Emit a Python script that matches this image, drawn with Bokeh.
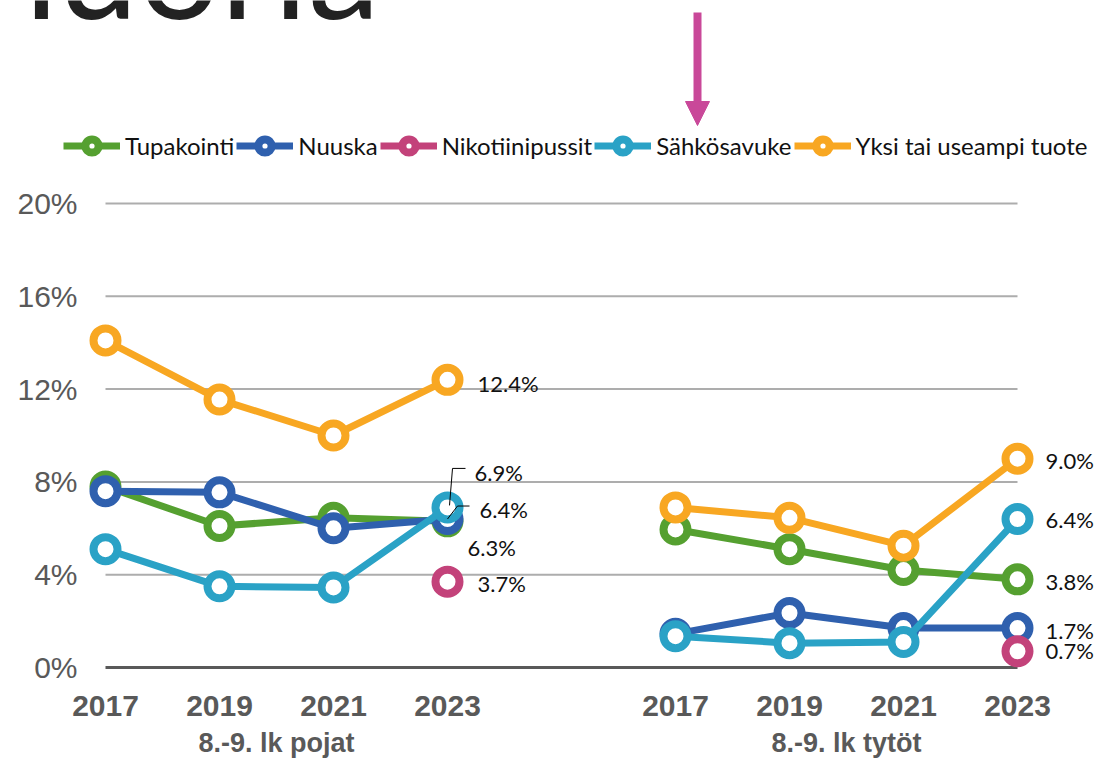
import math
from bokeh.plotting import figure
from bokeh.models import (Range1d, FixedTicker, Legend, LegendItem, Label, Arrow,
                          NormalHead, LinearAxis, ColumnDataSource)
from bokeh.core.properties import value
from bokeh.embed import file_html
from bokeh.resources import INLINE

nan = float("nan")

# ---------------- data ----------------
years = ["2017", "2019", "2021", "2023"]
groups = ["8.-9. lk pojat", "8.-9. lk tytöt"]
series = ["Tupakointi", "Nuuska", "Nikotiinipussit", "Sähkösavuke", "Yksi tai useampi tuote"]

tupakointi_pojat = [7.8, 6.1, 6.45, 6.3]
tupakointi_tytot = [5.95, 5.1, 4.2, 3.8]
nuuska_pojat = [7.6, 7.55, 6.0, 6.4]
nuuska_tytot = [1.45, 2.35, 1.7, 1.7]
nikotiinipussit_pojat = [nan, nan, nan, 3.7]
nikotiinipussit_tytot = [nan, nan, nan, 0.7]
sahkosavuke_pojat = [5.1, 3.5, 3.45, 6.9]
sahkosavuke_tytot = [1.35, 1.05, 1.1, 6.4]
yksi_pojat = [14.1, 11.55, 10.0, 12.4]
yksi_tytot = [6.9, 6.45, 5.25, 9.0]

y_ticks = [0, 4, 8, 12, 16, 20]
title_text = "nuoria"

values_by_group = [
    [tupakointi_pojat, nuuska_pojat, nikotiinipussit_pojat, sahkosavuke_pojat, yksi_pojat],
    [tupakointi_tytot, nuuska_tytot, nikotiinipussit_tytot, sahkosavuke_tytot, yksi_tytot],
]

# ---------------- styles ----------------
colors = ["#55A030", "#2F60AE", "#C3427A", "#2AA2C6", "#F8A722"]
FONT = "Lato"
AXIS_FONT = "Liberation Sans"
GRAY = "#595959"
ARROW_COLOR = "#C94899"

# label offsets in pixels (dx, dy) per group / series index
label_offsets = [
    [(20, 26), (32, -10), (30, 2), (27, -35), (30, 4)],
    [(28, 2), (28, 2), (28, -1), (28, 0), (28, 2)],
]
# leader lines (pixel offsets from the point) for crowded labels
leaders = {
    (0, 3): [(2, -2), (5, -39), (18, -39)],
    (0, 1): [(0, 0), (10, -13), (22, -13)],
}

# ---------------- geometry ----------------
W = 1096
FH = 684
ZERO_PX = 667
n = len(years)
gx = [[g * (n + 1) + i for i in range(n)] for g in range(len(groups))]
all_x = [x for g in gx for x in g]
x_lo, x_hi = all_x[0], all_x[-1]

PX_PER_PCT = 23.2
PX_PER_CAT = 114.0
x_start = x_lo - 105 / PX_PER_CAT
x_end = x_start + W / PX_PER_CAT
y_start = -(FH - ZERO_PX) / PX_PER_PCT
y_end = y_start + FH / PX_PER_PCT

def px_x(px):  # canvas pixel -> data x
    return x_start + px / PX_PER_CAT

def px_y(px):  # canvas pixel from top -> data y
    return y_end - px / PX_PER_PCT

p = figure(frame_width=W, frame_height=FH,
           x_range=Range1d(x_start, x_end), y_range=Range1d(y_start, y_end),
           y_axis_location=None,
           output_backend="svg", toolbar_location=None,
           min_border_left=0, min_border_right=0, min_border_top=0, min_border_bottom=762 - FH,
           outline_line_color=None, background_fill_color="white", border_fill_color="white")
p.xgrid.grid_line_color = None
p.ygrid.grid_line_color = None

# gridlines spanning the categories
grid_vals = y_ticks[1:]
p.segment(x0=[x_lo] * len(grid_vals), x1=[x_hi] * len(grid_vals), y0=grid_vals, y1=grid_vals,
          line_color="#ADADAD", line_width=2)
p.segment(x0=[x_lo], x1=[x_hi], y0=[y_ticks[0]], y1=[y_ticks[0]], line_color=GRAY, line_width=3)

# y tick labels
p.text(x=[x_lo - 28 / PX_PER_CAT] * len(y_ticks), y=y_ticks, text=[f"{t}%" for t in y_ticks],
       text_align="right", text_baseline="middle", text_font=value(AXIS_FONT),
       text_font_size="30px", text_color=GRAY)

# series
items = []
gap_x = gx[0][-1] + 1
for si, (name, color) in enumerate(zip(series, colors)):
    xs = gx[0] + [gap_x] + gx[1]
    ys = values_by_group[0][si] + [nan] + values_by_group[1][si]
    lr = p.line(xs, ys, line_color=color, line_width=7, line_join="round")
    sr = p.scatter(xs, ys, size=24, fill_color="white", line_color=color, line_width=8)
    items.append(LegendItem(label=name, renderers=[lr, sr]))

# data labels
lx, ly, lt, lox, loy = [], [], [], [], []
for g in range(len(groups)):
    for si in range(len(series)):
        v = values_by_group[g][si][-1]
        x = gx[g][-1]
        dx, dy = label_offsets[g][si]
        lx.append(x); ly.append(v); lt.append(f"{v:.1f}%"); lox.append(dx); loy.append(dy)
        if (g, si) in leaders:
            pts = leaders[(g, si)]
            p.line([x + a / PX_PER_CAT for a, b in pts], [v - b / PX_PER_PCT for a, b in pts],
                   line_color="black", line_width=1)
src = ColumnDataSource(dict(x=lx, y=ly, t=lt, ox=lox, oy=loy))
p.text(x="x", y="y", text="t", x_offset="ox", y_offset="oy", source=src,
       text_align="left", text_baseline="middle", text_font=value(FONT),
       text_font_size="22px", text_color="#111111")

# legend
legend = Legend(items=items, orientation="horizontal", location=(63, FH - 162),
                glyph_width=57, glyph_height=33, label_standoff=5, spacing=2,
                padding=0, margin=0, border_line_color=None, background_fill_alpha=0,
                label_text_font=FONT, label_text_font_size="24px", label_text_color="#111111")
p.add_layout(legend, "center")

# partially visible title and arrow at top
p.add_layout(Label(x=px_x(-24), y=px_y(-38), text=title_text,
                   text_font=FONT, text_font_size="145px", text_color="#222222",
                   text_baseline="alphabetic", text_align="left"))
p.add_layout(Arrow(end=NormalHead(size=24, fill_color=ARROW_COLOR, line_color=ARROW_COLOR),
                   x_start=px_x(697), y_start=px_y(12), x_end=px_x(697), y_end=px_y(125),
                   line_color=ARROW_COLOR, line_width=8))

# x axis: years
xa = p.xaxis[0]
xa.ticker = FixedTicker(ticks=all_x)
xa.major_label_overrides = {x: years[i % n] for i, x in enumerate(all_x)}
xa.axis_line_color = None
xa.major_tick_line_color = None
xa.minor_tick_line_color = None
xa.major_tick_out = 0
xa.major_tick_in = 0
xa.major_label_standoff = 11
xa.major_label_text_font = AXIS_FONT
xa.major_label_text_font_style = "bold"
xa.major_label_text_font_size = "30px"
xa.major_label_text_color = GRAY

# x axis: groups
centers = [sum(g) / len(g) for g in gx]
ga = LinearAxis(ticker=FixedTicker(ticks=centers),
                major_label_overrides={c: groups[i] for i, c in enumerate(centers)})
ga.axis_line_color = None
ga.major_tick_line_color = None
ga.minor_tick_line_color = None
ga.major_tick_out = 0
ga.major_tick_in = 0
ga.major_label_standoff = 9
ga.major_label_text_font = AXIS_FONT
ga.major_label_text_font_style = "bold"
ga.major_label_text_font_size = "27px"
ga.major_label_text_color = GRAY
p.add_layout(ga, "below")

open("out.html", "w").write(file_html(p, INLINE))
